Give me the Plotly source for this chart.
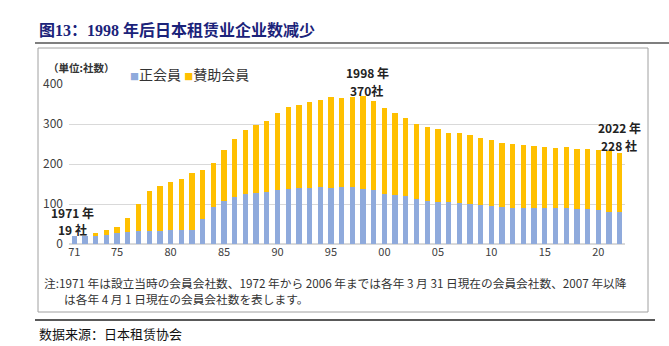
import plotly.graph_objects as go

years = list(range(1971, 2023))
seikaiin = [19, 19, 21, 23, 27, 30, 32, 32, 32, 36,
            34, 34, 62, 93, 107, 117, 125, 127, 131, 136,
            137, 141, 141, 142, 141, 142, 142, 137, 136, 125,
            123, 120, 112, 107, 104, 104, 103, 101, 98, 94,
            92, 90, 90, 90, 90, 90, 90, 88, 87, 84,
            81, 80]
sanjo = [0, 0, 7, 12, 15, 35, 67, 100, 112, 118,
         128, 143, 124, 109, 129, 145, 160, 171, 176, 192,
         206, 207, 215, 217, 226, 223, 226, 233, 222, 215,
         204, 194, 187, 186, 183, 174, 174, 171, 166, 167,
         161, 159, 157, 156, 153, 151, 152, 150, 151, 150,
         151, 148]
tick_years = [1971, 1975, 1980, 1985, 1990, 1995, 2000, 2005, 2010, 2015, 2020]
tick_text = ["71", "75", "80", "85", "90", "95", "00", "05", "10", "15", "20"]
y_ticks = [0, 100, 200, 300, 400]

W, H = 669, 346
L, R, T, B = 69, 625, 84, 244


def px(x):
    return (x - L) / (R - L)


def py(y):
    return (B - y) / (B - T)


BLUE = "#8FAADC"
GOLD = "#FFC000"
JP = "Noto Sans CJK JP"

fig = go.Figure()
fig.add_trace(go.Bar(x=years, y=seikaiin, name="正会員", marker=dict(color=BLUE, line=dict(width=0)), width=0.5))
fig.add_trace(go.Bar(x=years, y=sanjo, name="賛助会員", marker=dict(color=GOLD, line=dict(width=0)), width=0.5))

fig.update_layout(
    width=W, height=H,
    margin=dict(l=L, r=W - R, t=T, b=H - B, pad=0),
    paper_bgcolor="white", plot_bgcolor="white",
    barmode="stack", showlegend=False,
    font=dict(family=JP, color="#333333"),
    xaxis=dict(range=[1970.5, 2022.5], tickvals=tick_years, ticktext=tick_text,
               showgrid=False, ticks="", showline=False, zeroline=False,
               tickfont=dict(size=11, color="#404040", family=JP)),
    yaxis=dict(range=[0, 400], tickvals=y_ticks, showgrid=True, gridcolor="#D9D9D9",
               gridwidth=1, zeroline=True, zerolinecolor="#D9D9D9", ticks="",
               ticklabelstandoff=5,
               showline=False, tickfont=dict(size=12, color="#404040", family=JP)),
)

shapes = [
    dict(type="line", xref="paper", yref="paper", x0=px(35), x1=px(669), y0=py(43), y1=py(43),
         line=dict(color="#555555", width=1.5)),
    dict(type="rect", xref="paper", yref="paper", x0=px(38), x1=px(648), y0=py(48), y1=py(312),
         line=dict(color="#A0A0A0", width=1)),
    dict(type="line", xref="paper", yref="paper", x0=px(35), x1=px(655), y0=py(320), y1=py(320),
         line=dict(color="#222222", width=1.5)),
]
fig.update_layout(shapes=shapes)

ann = []


def add(text, x, y, size, color="#222222", xanchor="center", family=JP, bold=False):
    t = f"<b>{text}</b>" if bold else text
    ann.append(dict(text=t, x=px(x), y=py(y), xref="paper", yref="paper", xanchor=xanchor,
                    yanchor="middle", showarrow=False, font=dict(size=size, color=color, family=family)))


add("图13：1998 年后日本租赁业企业数减少", 37, 30, 16, color="#1B237A", xanchor="left",
    family="Liberation Serif, Noto Sans CJK SC", bold=True)
add("（単位:社数）", 46, 68, 10.5, color="#333333", xanchor="left", bold=True)
add(f"<span style='color:{BLUE};font-size:9px'>■</span>正会員 "
    f"<span style='color:{GOLD};font-size:9px'>■</span>賛助会員", 128, 74, 14, color="#333333", xanchor="left")
add("1971 年", 72, 212, 12, bold=True)
add("19 社", 72, 229, 12, bold=True)
add("1998 年", 367, 73, 12, bold=True)
add("370社", 366, 90.5, 12, bold=True)
add("2022 年", 619, 127.5, 12, bold=True)
add("228 社", 619, 145, 12, bold=True)
add("注:1971 年は設立当時の会員会社数、1972 年から 2006 年までは各年 3 月 31 日現在の会員会社数、2007 年以降",
    42, 282, 11.7, color="#333333", xanchor="left")
add("は各年 4 月 1 日現在の会員会社数を表します。", 62, 298, 11.7, color="#333333", xanchor="left")
add("数据来源：日本租赁协会", 37, 333, 13, color="#111111", xanchor="left", family="Noto Sans CJK SC")
fig.update_layout(annotations=ann)

fig.write_html("out.html")
